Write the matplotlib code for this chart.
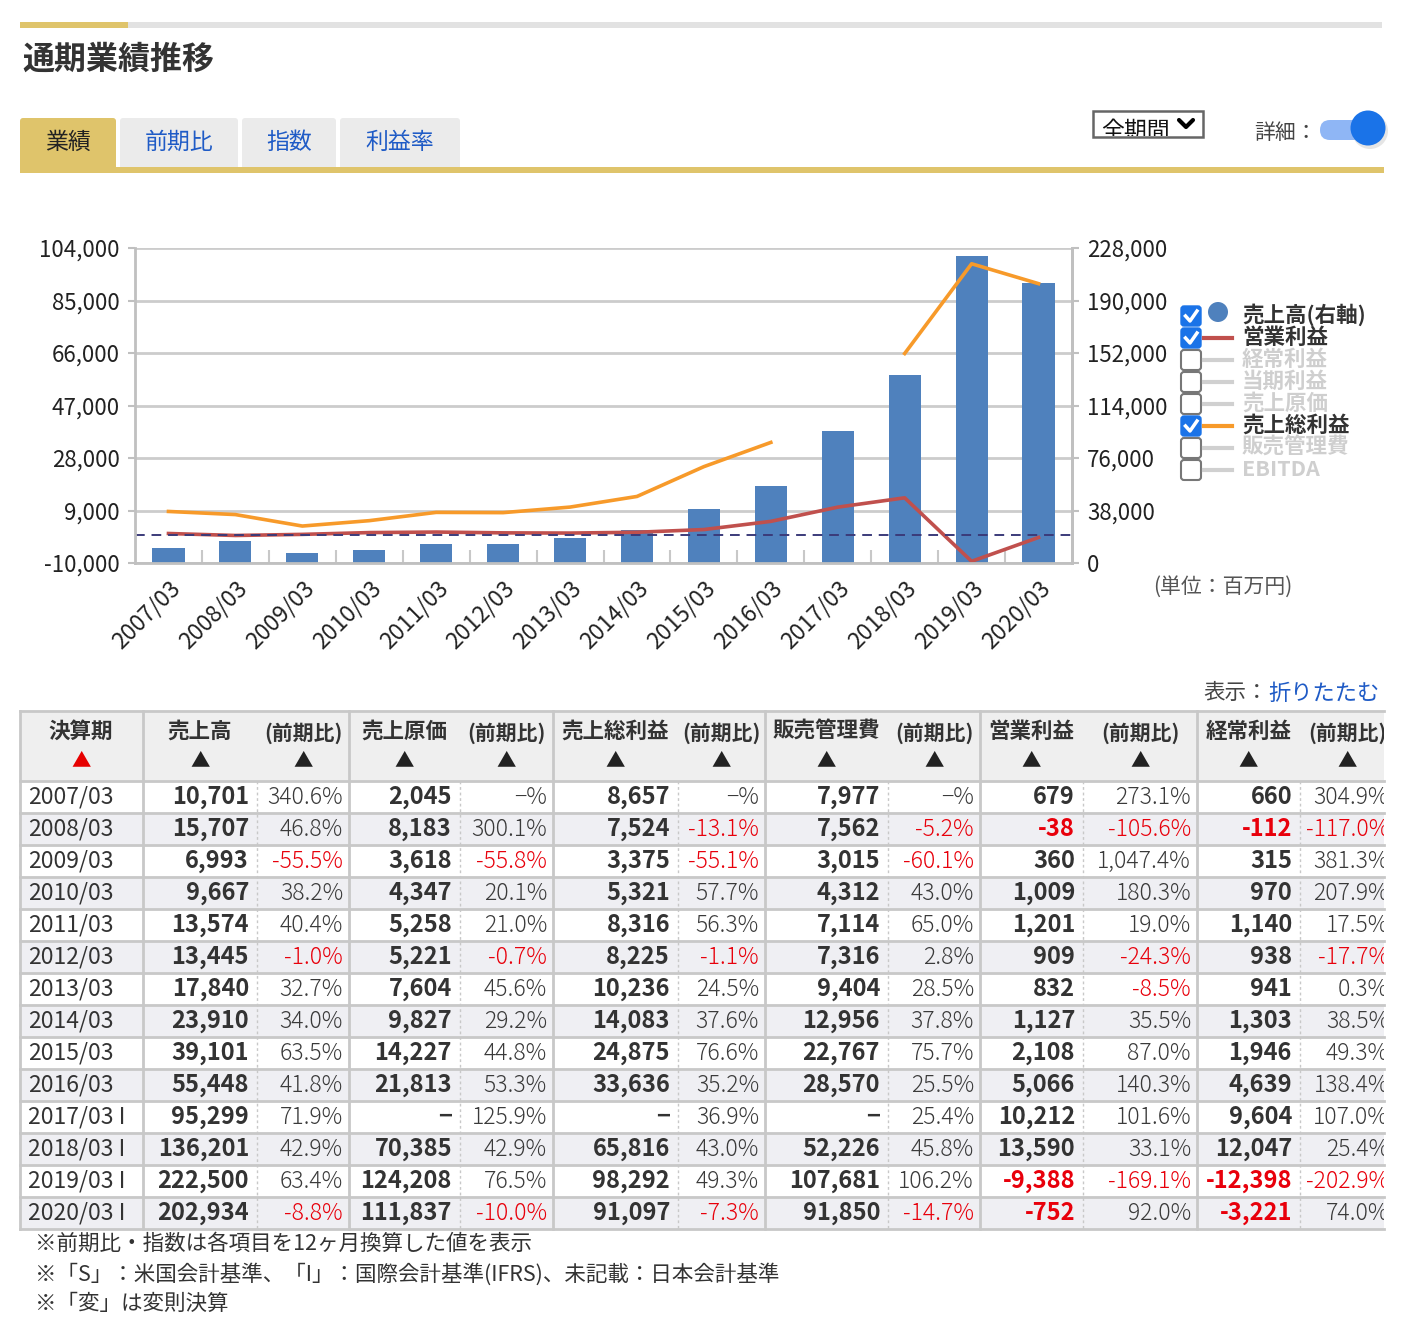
import matplotlib.pyplot as plt
import numpy as np
from matplotlib.patches import Rectangle, FancyBboxPatch, Circle

plt.rcParams['font.family'] = ['Noto Sans CJK JP', 'DejaVu Sans']

W, H = 1406, 1328

# ---- data ----
periods = ['2007/03', '2008/03', '2009/03', '2010/03', '2011/03', '2012/03', '2013/03',
           '2014/03', '2015/03', '2016/03', '2017/03', '2018/03', '2019/03', '2020/03']
period_marks = ['', '', '', '', '', '', '', '', '', '', ' I', ' I', ' I', ' I']

sales = [10701, 15707, 6993, 9667, 13574, 13445, 17840, 23910, 39101, 55448, 95299, 136201, 222500, 202934]
sales_pct = [340.6, 46.8, -55.5, 38.2, 40.4, -1.0, 32.7, 34.0, 63.5, 41.8, 71.9, 42.9, 63.4, -8.8]
cogs = [2045, 8183, 3618, 4347, 5258, 5221, 7604, 9827, 14227, 21813, None, 70385, 124208, 111837]
cogs_pct = [None, 300.1, -55.8, 20.1, 21.0, -0.7, 45.6, 29.2, 44.8, 53.3, 125.9, 42.9, 76.5, -10.0]
gross = [8657, 7524, 3375, 5321, 8316, 8225, 10236, 14083, 24875, 33636, None, 65816, 98292, 91097]
gross_pct = [None, -13.1, -55.1, 57.7, 56.3, -1.1, 24.5, 37.6, 76.6, 35.2, 36.9, 43.0, 49.3, -7.3]
sga = [7977, 7562, 3015, 4312, 7114, 7316, 9404, 12956, 22767, 28570, None, 52226, 107681, 91850]
sga_pct = [None, -5.2, -60.1, 43.0, 65.0, 2.8, 28.5, 37.8, 75.7, 25.5, 25.4, 45.8, 106.2, -14.7]
op_income = [679, -38, 360, 1009, 1201, 909, 832, 1127, 2108, 5066, 10212, 13590, -9388, -752]
op_pct = [273.1, -105.6, 1047.4, 180.3, 19.0, -24.3, -8.5, 35.5, 87.0, 140.3, 101.6, 33.1, -169.1, 92.0]
ord_income = [660, -112, 315, 970, 1140, 938, 941, 1303, 1946, 4639, 9604, 12047, -12398, -3221]
ord_pct = [304.9, -117.0, 381.3, 207.9, 17.5, -17.7, 0.3, 38.5, 49.3, 138.4, 107.0, 25.4, -202.9, 74.0]

col_names = ['売上高', '売上原価', '売上総利益', '販売管理費', '営業利益', '経常利益']
col_values = [sales, cogs, gross, sga, op_income, ord_income]
col_pcts = [sales_pct, cogs_pct, gross_pct, sga_pct, op_pct, ord_pct]

left_ticks = [-10000, 9000, 28000, 47000, 66000, 85000, 104000]
right_ticks = [0, 38000, 76000, 114000, 152000, 190000, 228000]

legend_names = ['売上高(右軸)', '営業利益', '経常利益', '当期利益', '売上原価', '売上総利益', '販売管理費', 'EBITDA']
legend_on = [True, True, False, False, False, True, False, False]

tabs = ['業績', '前期比', '指数', '利益率']
notes = ['※前期比・指数は各項目を12ヶ月換算した値を表示',
         '※「S」：米国会計基準、「I」：国際会計基準(IFRS)、未記載：日本会計基準',
         '※「変」は変則決算']

BLUE_BAR = '#4f81bd'
RED_LINE = '#c0504d'
ORANGE = '#f79a2a'
GOLD = '#dfc46b'
TXT = '#333333'
RED = '#e8000b'

fig = plt.figure(figsize=(W / 100, H / 100), dpi=100)

# page layer in pixel coordinates
page = fig.add_axes([0, 0, 1, 1])
page.set_xlim(0, W)
page.set_ylim(H, 0)
page.axis('off')

# header strip + title
page.add_patch(Rectangle((20, 22), 1362, 6, color='#e2e2e2', lw=0))
page.add_patch(Rectangle((20, 22), 108, 6, color=GOLD, lw=0))
page.text(22, 60, '通期業績推移', fontsize=23, fontweight='bold', color=TXT, va='center')

# tabs
tab_x = [(20, 116), (120, 238), (242, 336), (340, 460)]
for i, (name, (x0, x1)) in enumerate(zip(tabs, tab_x)):
    fc = GOLD if i == 0 else '#ebebeb'
    page.add_patch(FancyBboxPatch((x0, 118), x1 - x0, 52, boxstyle='round,pad=0,rounding_size=3',
                                  fc=fc, ec='none'))
    page.text((x0 + x1) / 2, 142, name, fontsize=16.5, ha='center', va='center',
              color='#222222' if i == 0 else '#1f5bc6')
page.add_patch(Rectangle((20, 167), 1364, 6, color=GOLD, lw=0))

# period dropdown (label clipped by its box, as on the page)
page.add_patch(Rectangle((1093, 111), 110, 26, fc='white', ec='#666666', lw=1.8))
dd = page.text(1101, 131, '全期間', fontsize=16.5, color='#111111', va='center')
dd.set_clip_on(True)
dd.set_clip_path(Rectangle((1093, 111), 110, 25, transform=page.transData))
page.plot([1179, 1186, 1193], [120, 127, 120], color='black', lw=3, solid_capstyle='round')

# detail toggle
page.text(1254, 133, '詳細：', fontsize=15, color='#444444', va='center')
page.add_patch(FancyBboxPatch((1320, 120), 50, 20, boxstyle='round,pad=0,rounding_size=10',
                              fc='#8fb6f5', ec='none'))
page.add_patch(Circle((1370, 131), 18, fc='#cccccc', ec='none', alpha=0.5))
page.add_patch(Circle((1368, 128), 17.5, fc='#1a73e8', ec='none'))

# ---- chart ----
x = np.arange(len(periods))
gross_line = np.array([np.nan if v is None else v for v in gross], dtype=float)

ax = fig.add_axes([135 / W, 1 - 563 / H, (1072 - 135) / W, (563 - 248) / H])
ax2 = ax.twinx()
ax.set_zorder(ax2.get_zorder() + 1)
ax.patch.set_visible(False)

ax2.bar(x, sales, width=0.48, color=BLUE_BAR, zorder=2)
ax2.set_ylim(0, 228000)
ax2.set_yticks(right_ticks)
ax2.set_yticklabels([f'{v:,}' for v in right_ticks])
ax2.set_axisbelow(True)
ax2.grid(axis='y', color='#cccccc', lw=2)

ax.plot(x, op_income, color=RED_LINE, lw=2.6, solid_joinstyle='round')
ax.plot(x, gross_line, color=ORANGE, lw=2.6, solid_joinstyle='round')
ax.axhline(0, color='#3b3b7a', lw=1.4, ls=(0, (5, 3.5)))
ax.set_ylim(-10000, 104000)
ax.set_yticks(left_ticks)
ax.set_yticklabels([f'{v:,}' for v in left_ticks])
ax.set_xlim(-0.5, len(periods) - 0.5)
ax.set_xticks(x)
ax.set_xticklabels(periods, rotation=45, ha='right', va='top', rotation_mode='anchor')
ax.set_xticks(np.arange(0.5, len(periods) - 1, 1), minor=True)
ax.tick_params(axis='x', which='major', length=0, pad=10, labelsize=16.5, labelcolor='#222222')
ax.tick_params(axis='x', which='minor', direction='in', length=9.5, width=1.5, color='#c8c8c8')
for a in (ax, ax2):
    a.tick_params(axis='y', length=5, width=1.5, color='#c0c0c0', labelsize=16, labelcolor='#222222', pad=6)
    for s in a.spines.values():
        s.set_color('#c0c0c0')
        s.set_linewidth(2)
    a.spines['top'].set_visible(False)
ax2.spines['left'].set_visible(False)
ax2.spines['bottom'].set_visible(False)

# legend
for i, (name, on) in enumerate(zip(legend_names, legend_on)):
    y = 316 + i * 22
    if on:
        page.add_patch(FancyBboxPatch((1181, y - 10), 20, 20, boxstyle='round,pad=0,rounding_size=3',
                                      fc='#1a73e8', ec='#1a73e8', lw=1))
        page.plot([1185.5, 1190, 1197], [y, y + 5, y - 5], color='white', lw=2.5)
    else:
        page.add_patch(FancyBboxPatch((1181, y - 10), 20, 20, boxstyle='round,pad=0,rounding_size=3',
                                      fc='white', ec='#777777', lw=1.5))
    if i == 0:
        page.add_patch(Circle((1218, y - 4), 10, fc=BLUE_BAR, ec='none'))
    else:
        lc = {1: RED_LINE, 5: ORANGE}.get(i, '#d0d0d0')
        page.plot([1204, 1232], [y, y], color=lc, lw=3)
    page.text(1242, y - 1, name, fontsize=15.5, fontweight='bold', va='center',
              color=TXT if on else '#cfcfcf')

page.text(1153, 587, '(単位：百万円)', fontsize=15, color='#555555', va='center')
page.text(1203, 693, '表示：', fontsize=15.5, color='#444444', va='center')
page.text(1268, 693, '折りたたむ', fontsize=16, color='#1f5bc6', va='center')

# ---- table ----
top, head_h, row_h = 711, 70, 32
bottom = top + head_h + row_h * len(periods)
tab = fig.add_axes([20 / W, 1 - bottom / H, 1364 / W, (bottom - top) / H])
tab.set_xlim(20, 1384)
tab.set_ylim(bottom, top)
tab.axis('off')

solid_x = [20, 143, 349, 553, 765, 980, 1197]
dash_x = [257, 460, 678, 888, 1083, 1300]
end_x = [349, 553, 765, 980, 1197, 1395]

tab.add_patch(Rectangle((20, top), 1364, head_h, fc='#efefef', ec='none'))
for r in range(len(periods)):
    if r % 2 == 1:
        tab.add_patch(Rectangle((20, top + head_h + r * row_h), 1364, row_h, fc='#efeff3', ec='none'))

# header
tab.text(81, top + 20, '決算期', fontsize=15.5, fontweight='bold', color=TXT, ha='center', va='center')
tab.text(81, top + 50, '▲', fontsize=14, color='#e60000', ha='center', va='center')
for c, name in enumerate(col_names):
    x0, xd, x1 = solid_x[c + 1], dash_x[c], end_x[c]
    tab.text((x0 + xd) / 2, top + 20, name, fontsize=15.5, fontweight='bold', color=TXT,
             ha='center', va='center', clip_on=True)
    tab.text((xd + x1) / 2, top + 22, '(前期比)', fontsize=15, fontweight='bold', color=TXT,
             ha='center', va='center', clip_on=True)
    for xc in ((x0 + xd) / 2, (xd + x1) / 2):
        tab.text(xc, top + 50, '▲', fontsize=14, color='#222222', ha='center', va='center', clip_on=True)

# body
for r, per in enumerate(periods):
    yc = top + head_h + r * row_h + 16
    tab.text(28, yc, per + period_marks[r], fontsize=16.5, color=TXT, va='center')
    for c in range(len(col_names)):
        v = col_values[c][r]
        p = col_pcts[c][r]
        vs = '−' if v is None else f'{v:,}'
        ps = '−%' if p is None else f'{p:,.1f}%'
        vcol = RED if (v is not None and v < 0) else TXT
        pcol = RED if (p is not None and p < 0) else '#3a3a3a'
        tab.text(dash_x[c] - 8, yc, vs, fontsize=17, fontweight='bold', color=vcol,
                 ha='right', va='center', clip_on=True)
        tab.text(end_x[c] - 6, yc, ps, fontsize=16.5, fontweight='light', color=pcol,
                 ha='right', va='center', clip_on=True)

for yy in [top, top + head_h] + [top + head_h + row_h * (r + 1) for r in range(len(periods))]:
    tab.plot([20, 1384], [yy, yy], color='#c8c8c8', lw=2, clip_on=False)
for xx in solid_x:
    tab.plot([xx, xx], [top, bottom], color='#c8c8c8', lw=2, clip_on=False)
for xx in dash_x:
    tab.plot([xx, xx], [top + head_h, bottom], color='#c8c8c8', lw=1, ls=(0, (2, 2)))

# notes
for i, note in enumerate(notes):
    page.text(35, 1244 + i * 30, note, fontsize=15.5, color=TXT, va='center')

fig.savefig('out.png', dpi=100)
